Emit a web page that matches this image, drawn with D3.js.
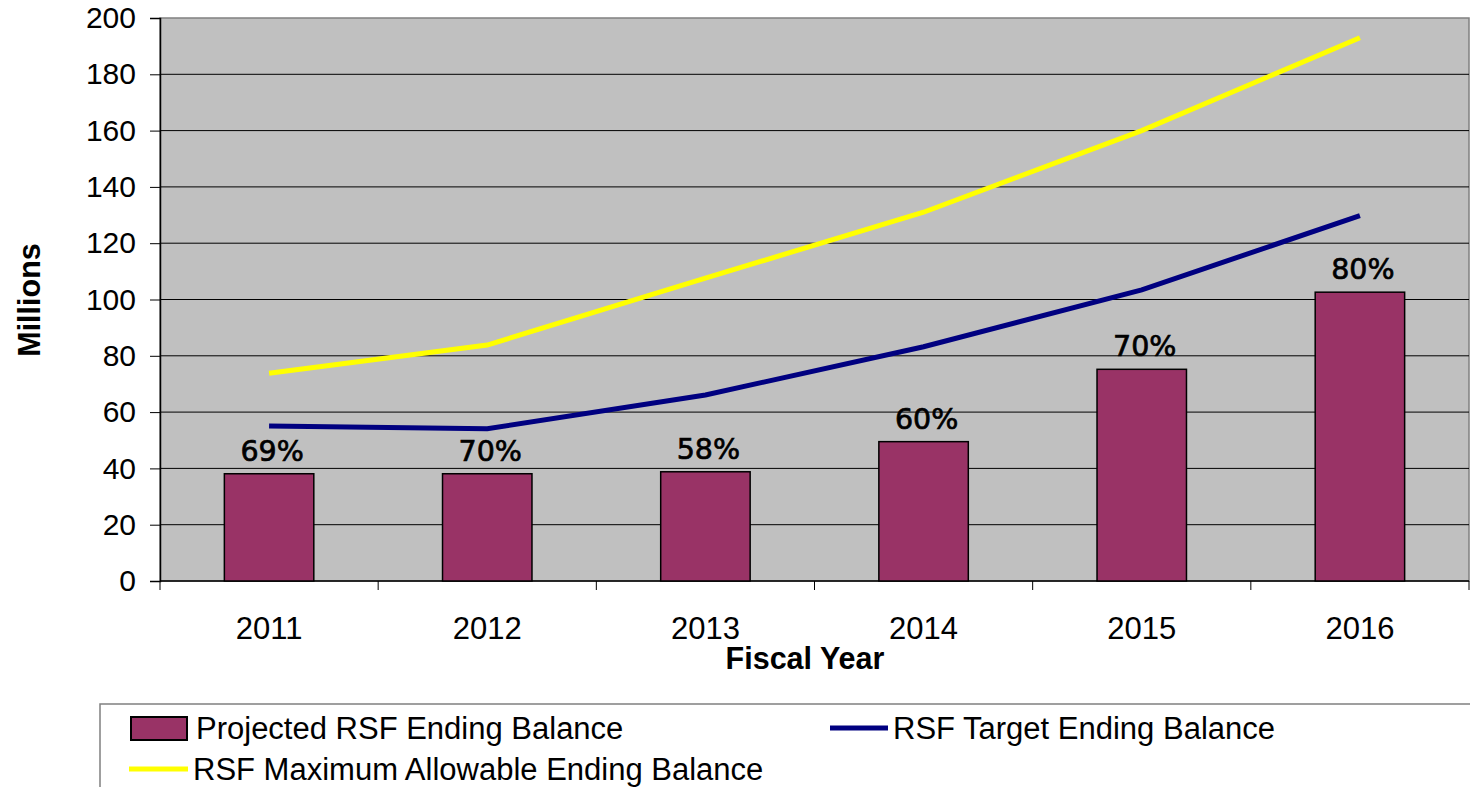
<!DOCTYPE html>
<html lang="en">
<head>
<meta charset="UTF-8">
<title>RSF Ending Balance</title>
<script src="https://d3js.org/d3.v7.min.js"></script>
<style>
  body { margin: 0; background: #fff; }
  svg { display: block; }
  text { font-family: "Liberation Sans", Arial, sans-serif; }
  text.pct { font-family: "DejaVu Sans", sans-serif; }
</style>
</head>
<body>
<svg id="chart"></svg>
<script>
// chart data
const years = ["2011", "2012", "2013", "2014", "2015", "2016"];
const projected = [38.1, 38.1, 38.8, 49.5, 75.2, 102.6];
const target = [55.1, 54.1, 66.1, 83.2, 103.4, 129.8];
const maxAllowable = [73.8, 83.8, 107.6, 131.0, 160.0, 193.0];
const pctLabels = ["69%", "70%", "58%", "60%", "70%", "80%"];
const yTicks = [0, 20, 40, 60, 80, 100, 120, 140, 160, 180, 200];

const W = 1470, H = 787;
const plotL = 160, plotR = 1469, plotT = 18, plotB = 581;

const svg = d3.select('#chart').attr('width', W).attr('height', H);

const x = d3.scaleBand().domain(years).range([plotL, plotR]).padding(0);
const y = d3.scaleLinear().domain([0, 200]).range([plotB, plotT]);

// plot background
svg.append('rect')
  .attr('x', plotL).attr('y', plotT)
  .attr('width', plotR - plotL).attr('height', plotB - plotT)
  .attr('fill', '#c0c0c0')
  .attr('stroke', '#808080').attr('stroke-width', 1.5);

// gridlines
svg.append('g')
  .selectAll('line')
  .data(yTicks.filter(d => d > 0 && d < 200))
  .enter().append('line')
  .attr('x1', plotL).attr('x2', plotR)
  .attr('y1', d => y(d)).attr('y2', d => y(d))
  .attr('stroke', '#000').attr('stroke-width', 1);

// y axis
const yAxis = svg.append('g')
  .attr('transform', `translate(${plotL},0)`)
  .call(d3.axisLeft(y).tickValues(yTicks).tickSize(10).tickPadding(14));
yAxis.select('.domain').attr('stroke', '#000').attr('stroke-width', 1.5);
yAxis.selectAll('.tick line').attr('stroke', '#000');
yAxis.selectAll('text').attr('font-size', 30).attr('fill', '#000');

// x axis: ticks at band boundaries
const xAxisG = svg.append('g').attr('transform', `translate(0,${plotB})`);
xAxisG.append('line').attr('x1', plotL).attr('x2', plotR)
  .attr('y1', 0).attr('y2', 0).attr('stroke', '#000').attr('stroke-width', 1.5);
xAxisG.selectAll('line.tk')
  .data(years.concat(['end']))
  .enter().append('line').attr('class', 'tk')
  .attr('x1', (d, i) => plotL + i * x.step())
  .attr('x2', (d, i) => plotL + i * x.step())
  .attr('y1', 0).attr('y2', 9)
  .attr('stroke', '#000');
xAxisG.selectAll('text')
  .data(years)
  .enter().append('text')
  .attr('x', d => x(d) + x.bandwidth() / 2)
  .attr('y', 58)
  .attr('text-anchor', 'middle')
  .attr('font-size', 31)
  .text(d => d);

// bars
const barW = x.bandwidth() * 0.41;
svg.append('g')
  .selectAll('rect')
  .data(projected)
  .enter().append('rect')
  .attr('x', (d, i) => x(years[i]) + (x.bandwidth() - barW) / 2)
  .attr('y', d => y(d))
  .attr('width', barW)
  .attr('height', d => y(0) - y(d))
  .attr('fill', '#993366')
  .attr('stroke', '#000').attr('stroke-width', 1.5);

// bar labels (slight stroke to mimic the heavier original glyphs)
svg.append('g')
  .selectAll('text')
  .data(projected)
  .enter().append('text')
  .attr('class', 'pct')
  .attr('x', (d, i) => x(years[i]) + x.bandwidth() / 2 + 3)
  .attr('y', d => y(d) - 13)
  .attr('text-anchor', 'middle')
  .attr('font-size', 28.5)
  .attr('stroke', '#000').attr('stroke-width', 0.7)
  .text((d, i) => pctLabels[i]);

// lines
const line = d3.line()
  .x((d, i) => x(years[i]) + x.bandwidth() / 2)
  .y(d => y(d));

svg.append('path').datum(maxAllowable)
  .attr('d', line).attr('fill', 'none')
  .attr('stroke', '#ffff00').attr('stroke-width', 5);

svg.append('path').datum(target)
  .attr('d', line).attr('fill', 'none')
  .attr('stroke', '#000080').attr('stroke-width', 5);

// axis titles
svg.append('text')
  .attr('transform', 'translate(40,300) rotate(-90)')
  .attr('text-anchor', 'middle')
  .attr('font-size', 30.5).attr('font-weight', 'bold')
  .text('Millions');

svg.append('text')
  .attr('x', 805).attr('y', 669)
  .attr('text-anchor', 'middle')
  .attr('font-size', 30.5).attr('font-weight', 'bold')
  .text('Fiscal Year');

// legend
const lg = svg.append('g');
lg.append('rect')
  .attr('x', 100).attr('y', 704)
  .attr('width', 1400).attr('height', 100)
  .attr('fill', '#fff').attr('stroke', '#808080').attr('stroke-width', 1.5);

lg.append('rect')
  .attr('x', 131).attr('y', 717).attr('width', 56).attr('height', 23)
  .attr('fill', '#993366').attr('stroke', '#000').attr('stroke-width', 2);
lg.append('text').attr('x', 196).attr('y', 739).attr('font-size', 31)
  .text('Projected RSF Ending Balance');

lg.append('line')
  .attr('x1', 830).attr('x2', 888).attr('y1', 728).attr('y2', 728)
  .attr('stroke', '#000080').attr('stroke-width', 5);
lg.append('text').attr('x', 893).attr('y', 739).attr('font-size', 31)
  .text('RSF Target Ending Balance');

lg.append('line')
  .attr('x1', 129).attr('x2', 188).attr('y1', 769).attr('y2', 769)
  .attr('stroke', '#ffff00').attr('stroke-width', 5);
lg.append('text').attr('x', 193).attr('y', 780).attr('font-size', 31)
  .text('RSF Maximum Allowable Ending Balance');
</script>
</body>
</html>
